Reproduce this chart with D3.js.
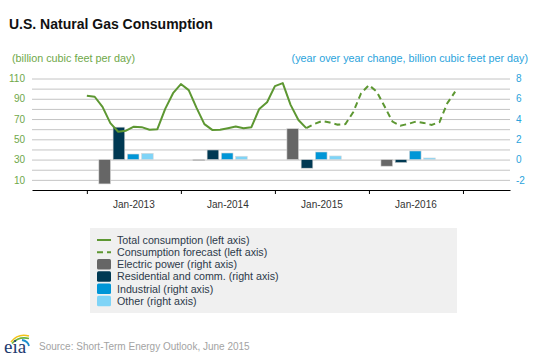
<!DOCTYPE html>
<html><head><meta charset="utf-8">
<script src="https://cdn.jsdelivr.net/npm/d3@7"></script>
<style>body{margin:0;background:#fff} svg{display:block;font-family:"Liberation Sans",Arial,sans-serif}</style>
</head><body><svg id="c" width="538" height="359"></svg>
<script>
// ---- data ----
const firstMonth = "2013-01";            // first month of the total consumption series
const totalConsumption = [93,92,82,66,57.5,58.5,62.5,62,59.5,60,80,95.5,
  104.5,98.5,81,65,59.3,59.5,61,62.6,61,62,80,86.6,
  102.5,105.5,84,69,61];
const forecastStart = "2015-05";
const consumptionForecast = [61,65,68,66.5,64.5,65,77,95.5,
  103.5,97,82.3,67.5,63.5,65.2,67.5,66.2,64.2,67,85.6,97];
const years = ["2013","2014","2015","2016"];
const sectors = ["Electric power","Residential and comm.","Industrial","Other"];
const electricPower = [-2.4,-0.1,3.05,-0.65];
const residentialComm = [3.2,0.95,-0.85,-0.3];
const industrial = [0.55,0.65,0.75,0.85];
const other = [0.62,0.33,0.36,0.16];
const xTickLabels = ["Jan-2013","Jan-2014","Jan-2015","Jan-2016"];
const leftTicks = [10,30,50,70,90,110];
const rightTicks = [-2,0,2,4,6,8];
const legendItems = ["Total consumption (left axis)","Consumption forecast (left axis)",
  "Electric power (right axis)","Residential and comm. (right axis)","Industrial (right axis)","Other (right axis)"];

// ---- styles ----
const green = "#5d9732", leftLbl = "#6fa84a", rightLbl = "#2aa3dc";
const sectorColors = ["#666666","#003953","#0096d7","#7fd4f7"];

const svg = d3.select("#c");
const parse = d3.timeParse("%Y-%m");
const base = parse(firstMonth);
const mIdx = s => d3.timeMonth.count(base, parse(s));

const x = d3.scaleLinear().domain([-7, 54]).range([32, 510]);
const yL = d3.scaleLinear().domain([0, 110]).range([190, 78.5]);
const yR = d3.scaleLinear().domain([-3, 8]).range([190, 78.5]);

// title & units
svg.append("text").attr("x",9).attr("y",29).attr("font-size",14).attr("font-weight","bold")
  .attr("fill","#111").text("U.S. Natural Gas Consumption");
svg.append("text").attr("x",12).attr("y",62).attr("font-size",10.8).attr("fill",leftLbl)
  .text("(billion cubic feet per day)");
svg.append("text").attr("x",528).attr("y",62).attr("font-size",10.8).attr("fill",rightLbl)
  .attr("text-anchor","end").text("(year over year change, billion cubic feet per day)");

// gridlines
svg.append("g").selectAll("line").data(d3.range(10,111,10)).join("line")
  .attr("x1",x.range()[0]).attr("x2",x.range()[1])
  .attr("y1",d=>yL(d)+0.5).attr("y2",d=>yL(d)+0.5)
  .attr("stroke","#c4c4c4").attr("stroke-width",1);

// bars
const sectorVals = [electricPower, residentialComm, industrial, other];
const inner = d3.scaleBand().domain(sectors).range([-27.2, 27.2]).paddingInner(0.18);
const barG = svg.append("g");
years.forEach((yr, yi) => {
  const cx = x(mIdx(yr + "-06"));
  sectors.forEach((s, si) => {
    const v = sectorVals[si][yi];
    barG.append("rect")
      .attr("x", cx + inner(s)).attr("width", inner.bandwidth())
      .attr("y", yR(Math.max(0, v))).attr("height", Math.abs(yR(v) - yR(0)))
      .attr("fill", sectorColors[si]).attr("stroke","#d8d8d8").attr("stroke-width",0.6);
  });
});

// lines
const line = d3.line().x(d=>x(d[0])).y(d=>yL(d[1]));
const t0 = 0, f0 = mIdx(forecastStart);
svg.append("path").datum(totalConsumption.map((v,i)=>[t0+i,v]))
  .attr("d",line).attr("fill","none").attr("stroke",green).attr("stroke-width",2).attr("stroke-linejoin","round");
svg.append("path").datum(consumptionForecast.map((v,i)=>[f0+i,v]))
  .attr("d",line).attr("fill","none").attr("stroke",green).attr("stroke-width",2)
  .attr("stroke-dasharray","6,4");

// x axis
const xAxis = d3.axisBottom(x).tickValues(years.map(y=>mIdx(y+"-01")).concat([mIdx("2017-01")]))
  .tickSize(4).tickSizeOuter(0).tickFormat("");
const gx = svg.append("g").attr("transform","translate(0,190)").call(xAxis);
gx.select(".domain").attr("stroke","#000").attr("stroke-width",1.2);
gx.selectAll(".tick line").attr("stroke","#000");
svg.append("g").selectAll("text").data(xTickLabels).join("text")
  .attr("x",(d,i)=>x(mIdx(years[i]+"-07")))
  .attr("y",208).attr("text-anchor","middle").attr("font-size",10).attr("fill","#333")
  .text(d=>d);

// left axis
const gl = svg.append("g").attr("transform","translate(32,0)")
  .call(d3.axisLeft(yL).tickValues(leftTicks).tickSize(0).tickPadding(7));
gl.select(".domain").remove();
gl.selectAll("text").attr("font-size",10).attr("fill",leftLbl).attr("font-family","Liberation Sans, Arial, sans-serif");

// right axis
const gr = svg.append("g").attr("transform","translate(510,0)")
  .call(d3.axisRight(yR).tickValues(rightTicks).tickSize(0).tickPadding(6).tickFormat(d=>String(d)));
gr.select(".domain").remove();
gr.selectAll("text").attr("font-size",10).attr("fill",rightLbl).attr("font-family","Liberation Sans, Arial, sans-serif");

// legend
const lg = svg.append("g");
lg.append("rect").attr("x",90).attr("y",228).attr("width",367).attr("height",85).attr("fill","#f0f0f0");
legendItems.forEach((t,i)=>{
  const by = 243.5 + i*12.25;
  if (i < 2) {
    lg.append("line").attr("x1",97).attr("x2",111).attr("y1",by-3.5).attr("y2",by-3.5)
      .attr("stroke",green).attr("stroke-width",2).attr("stroke-dasharray", i===1 ? "6,4" : null);
  } else {
    lg.append("rect").attr("x",97).attr("y",by-9).attr("width",14).attr("height",10.5).attr("rx",1.5)
      .attr("fill",sectorColors[i-2]);
  }
  lg.append("text").attr("x",117).attr("y",by).attr("font-size",10.7).attr("fill","#2d3a4a").text(t);
});

// footer
const logo = svg.append("g");
logo.append("path").attr("d","M11,342 Q18,333 29,336").attr("fill","none").attr("stroke","#f2c318").attr("stroke-width",1.6);
logo.append("path").attr("d","M12,343.5 Q19,336 29,338.5").attr("fill","none").attr("stroke","#6cb33f").attr("stroke-width",1.6);
logo.append("path").attr("d","M22,340 Q28,341 29,346").attr("fill","none").attr("stroke","#1c8fd0").attr("stroke-width",1.8);
logo.append("text").attr("x",4).attr("y",353).attr("font-size",19).attr("font-family","Liberation Serif, serif")
  .attr("fill","#1d3b6e").text("eia");
svg.append("text").attr("x",39).attr("y",350).attr("font-size",10).attr("fill","#a3a3a3")
  .text("Source: Short-Term Energy Outlook, June 2015");
</script></body></html>
